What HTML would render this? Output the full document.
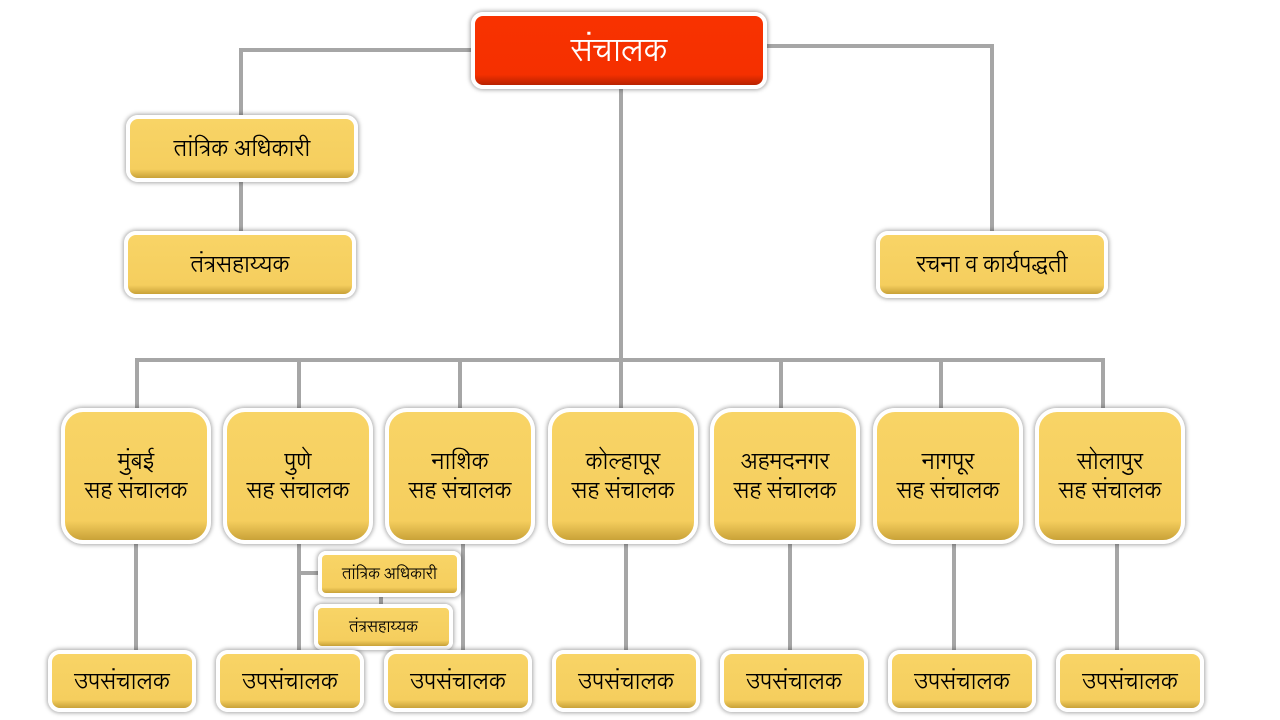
<!DOCTYPE html>
<html><head><meta charset="utf-8"><style>
body{margin:0;width:1280px;height:720px;background:#fff;position:relative;overflow:hidden;font-family:"Liberation Serif","Noto Serif","Lohit Devanagari",serif;}
.l{position:absolute;background:#A6A6A6;}
.b{position:absolute;box-sizing:border-box;border:4px solid #fff;border-radius:12px;background:linear-gradient(#F8D466,#F5CE5E 85%,#C9A238);box-shadow:0 0 4px 1px rgba(0,0,0,.35);display:flex;align-items:center;justify-content:center;text-align:center;color:#000;font-size:23px;line-height:29px;}
.m{border-radius:22px;}
.r{background:linear-gradient(#F83200,#F53000 85%,#B82200);color:#fff;font-size:32px;}
.s{font-size:16px;border-radius:8px;}
</style></head><body>
<div class="l" style="left:239px;top:48px;width:236px;height:4px"></div>
<div class="l" style="left:239px;top:48px;width:4px;height:190px"></div>
<div class="l" style="left:763px;top:44px;width:231px;height:4px"></div>
<div class="l" style="left:990px;top:44px;width:4px;height:192px"></div>
<div class="l" style="left:619px;top:85px;width:4px;height:327px"></div>
<div class="l" style="left:135px;top:358px;width:970px;height:4px"></div>
<div class="l" style="left:135px;top:358px;width:4px;height:54px"></div>
<div class="l" style="left:297px;top:358px;width:4px;height:54px"></div>
<div class="l" style="left:458px;top:358px;width:4px;height:54px"></div>
<div class="l" style="left:779px;top:358px;width:4px;height:54px"></div>
<div class="l" style="left:939px;top:358px;width:4px;height:54px"></div>
<div class="l" style="left:1101px;top:358px;width:4px;height:54px"></div>
<div class="l" style="left:134px;top:540px;width:4px;height:114px"></div>
<div class="l" style="left:297px;top:540px;width:4px;height:114px"></div>
<div class="l" style="left:461px;top:540px;width:4px;height:114px"></div>
<div class="l" style="left:624px;top:540px;width:4px;height:114px"></div>
<div class="l" style="left:788px;top:540px;width:4px;height:114px"></div>
<div class="l" style="left:952px;top:540px;width:4px;height:114px"></div>
<div class="l" style="left:1115px;top:540px;width:4px;height:114px"></div>
<div class="l" style="left:299px;top:571px;width:24px;height:4px"></div>
<div class="l" style="left:379px;top:593px;width:4px;height:15px"></div>

<div class="b r" style="left:471px;top:12px;width:296px;height:77px">संचालक</div>
<div class="b" style="left:126px;top:115px;width:232px;height:67px">तांत्रिक अधिकारी</div>
<div class="b" style="left:124px;top:231px;width:232px;height:67px">तंत्रसहाय्यक</div>
<div class="b" style="left:876px;top:231px;width:232px;height:67px">रचना व कार्यपद्धती</div>

<div class="b m" style="left:61px;top:408px;width:150px;height:136px">मुंबई<br>सह संचालक</div>
<div class="b m" style="left:223px;top:408px;width:150px;height:136px">पुणे<br>सह संचालक</div>
<div class="b m" style="left:385px;top:408px;width:150px;height:136px">नाशिक<br>सह संचालक</div>
<div class="b m" style="left:548px;top:408px;width:150px;height:136px">कोल्हापूर<br>सह संचालक</div>
<div class="b m" style="left:710px;top:408px;width:150px;height:136px">अहमदनगर<br>सह संचालक</div>
<div class="b m" style="left:873px;top:408px;width:150px;height:136px">नागपूर<br>सह संचालक</div>
<div class="b m" style="left:1035px;top:408px;width:150px;height:136px">सोलापुर<br>सह संचालक</div>

<div class="b s" style="left:318px;top:551px;width:143px;height:46px">तांत्रिक अधिकारी</div>
<div class="b s" style="left:314px;top:604px;width:139px;height:46px">तंत्रसहाय्यक</div>

<div class="b" style="left:48px;top:650px;width:148px;height:62px">उपसंचालक</div>
<div class="b" style="left:216px;top:650px;width:148px;height:62px">उपसंचालक</div>
<div class="b" style="left:384px;top:650px;width:148px;height:62px">उपसंचालक</div>
<div class="b" style="left:552px;top:650px;width:148px;height:62px">उपसंचालक</div>
<div class="b" style="left:720px;top:650px;width:148px;height:62px">उपसंचालक</div>
<div class="b" style="left:888px;top:650px;width:148px;height:62px">उपसंचालक</div>
<div class="b" style="left:1056px;top:650px;width:148px;height:62px">उपसंचालक</div>
</body></html>
